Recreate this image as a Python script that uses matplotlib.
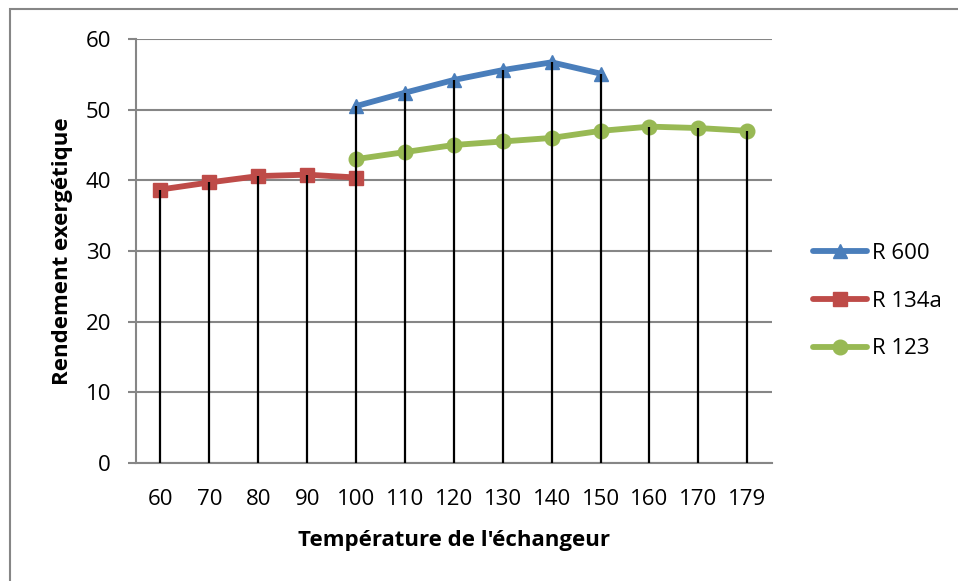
import matplotlib
matplotlib.use("Agg")
import matplotlib.pyplot as plt
from matplotlib.patches import Rectangle
import numpy as np

plt.rcParams['font.family'] = ['Open Sans', 'DejaVu Sans']

categories = ["60", "70", "80", "90", "100", "110", "120", "130", "140", "150", "160", "170", "179"]
r600 = [None, None, None, None, 50.5, 52.4, 54.2, 55.6, 56.7, 55.1, None, None, None]
r134a = [38.7, 39.7, 40.6, 40.8, 40.4, None, None, None, None, None, None, None, None]
r123 = [None, None, None, None, 43.0, 44.0, 45.0, 45.5, 46.0, 47.0, 47.6, 47.4, 47.0]

series = [
    ("R 600", r600, "#4A7EBB", "^"),
    ("R 134a", r134a, "#BE4B48", "s"),
    ("R 123", r123, "#98B954", "o"),
]

FS = 16
W, H = 958, 581
fig = plt.figure(figsize=(W / 100, H / 100), dpi=100)
ax = fig.add_axes([136 / W, 1 - 463 / H, (771.7 - 136) / W, (463 - 39) / H])

x = np.arange(len(categories))
for name, vals, color, mk in series:
    v = np.array([np.nan if a is None else a for a in vals], dtype=float)
    ax.plot(x, v, color=color, lw=4.2, marker=mk, ms=10.5, mec=color, mfc=color,
            label=name, zorder=3, solid_capstyle='round')

# drop lines
tops = []
for i in range(len(categories)):
    vs = [s[1][i] for s in series if s[1][i] is not None]
    tops.append(max(vs))
ax.vlines(x, 0, tops, colors="black", lw=1.6, zorder=4)

ax.set_xlim(-0.5, len(categories) - 0.5)
ax.set_ylim(0, 60)
ax.set_yticks(np.arange(0, 61, 10))
ax.set_xticks(x)
ax.set_xticklabels(categories)
ax.grid(axis='y', color="#868686", lw=1.5, zorder=0)
ax.set_axisbelow(True)
for s in ["top", "right"]:
    ax.spines[s].set_visible(False)
for s in ["left", "bottom"]:
    ax.spines[s].set_color("#868686")
    ax.spines[s].set_linewidth(1.5)
ax.tick_params(axis='y', length=6, width=1.5, color="#868686", pad=12, labelsize=FS)
ax.tick_params(axis='x', length=0, pad=19, labelsize=FS)

ax.set_xlabel("Température de l'échangeur", fontsize=FS, fontweight='bold', labelpad=14)
ax.set_ylabel("Rendement exergétique", fontsize=FS, fontweight='bold', labelpad=9)

leg = ax.legend(loc='center left', bbox_to_anchor=(1.033, 0.382), frameon=False,
                fontsize=FS, handlelength=2.43, handletextpad=0.22, labelspacing=1.21)

fig.patches.append(Rectangle((10 / W, -0.01), 1.0, 1 - 9 / H + 0.01, transform=fig.transFigure,
                             fill=False, edgecolor="#868686", lw=1.5))

fig.savefig("out.png", dpi=100)
